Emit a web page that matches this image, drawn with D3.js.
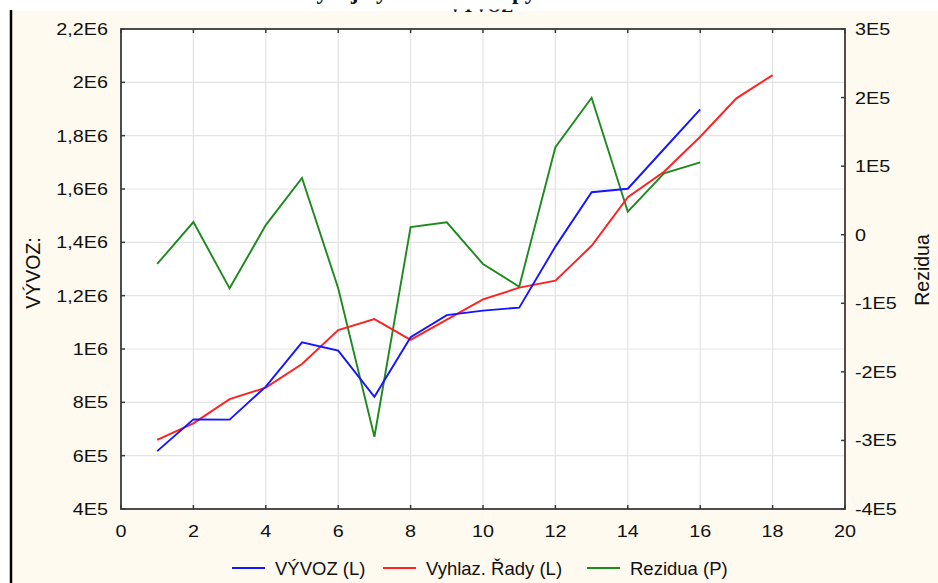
<!DOCTYPE html>
<html><head><meta charset="utf-8">
<script src="https://cdn.jsdelivr.net/npm/d3@7"></script>
<style>body{margin:0;background:#fff}svg{display:block}text{font-family:"Liberation Sans",Arial,sans-serif;fill:#111}</style>
</head><body>
<script>
const xVyvoz = [1,2,3,4,5,6,7,8,9,10,11,12,13,14,15,16];
const vyvoz = [617000,736000,735000,859000,1025000,994000,821000,1044000,1127000,1144000,1155000,1384000,1588000,1601000,1750000,1899000];
const xVyhlaz = [1,2,3,4,5,6,7,8,9,10,11,12,13,14,15,16,17,18];
const vyhlaz = [659000,721000,812000,855000,944000,1071000,1112000,1034000,1110000,1186000,1230000,1256000,1387000,1569000,1665000,1796000,1940000,2027000];
const xRez = [1,2,3,4,5,6,7,8,9,10,11,12,13,14,15,16];
const rezidua = [-42700,18500,-78200,14000,82700,-78000,-294600,11000,18000,-42700,-75800,127500,199800,33500,89500,105600];
const xTicks = [0,2,4,6,8,10,12,14,16,18,20];
const leftTicks = [400000,600000,800000,1000000,1200000,1400000,1600000,1800000,2000000,2200000];
const leftLabels = ["4E5","6E5","8E5","1E6","1,2E6","1,4E6","1,6E6","1,8E6","2E6","2,2E6"];
const rightTicks = [-400000,-300000,-200000,-100000,0,100000,200000,300000];
const rightLabels = ["-4E5","-3E5","-2E5","-1E5","0","1E5","2E5","3E5"];
const legendItems = [["VÝVOZ (L)","#1515ff"],["Vyhlaz. Řady (L)","#ff2020"],["Rezidua (P)","#1e8a1e"]];

const W=938,H=583;
const L=121,R=845,T=29,B=509;
const svg=d3.select("body").append("svg").attr("width",W).attr("height",H);
svg.append("rect").attr("width",W).attr("height",H).attr("fill","#fff");
svg.append("rect").attr("x",12).attr("y",11).attr("width",W-12).attr("height",H-11).attr("fill","#fefaf0");
svg.append("line").attr("x1",11).attr("x2",11).attr("y1",10).attr("y2",H).attr("stroke","#000").attr("stroke-width",2.5);

// cut-off title (only its lowest part is visible in the reference)
const defs=svg.append("defs");
defs.append("clipPath").attr("id","c1").append("rect").attr("x",0).attr("y",0).attr("width",W).attr("height",10);
defs.append("clipPath").attr("id","c2").append("rect").attr("x",0).attr("y",9.5).attr("width",W).attr("height",3.5);
const tStyle=s=>s.style("font-family","Liberation Serif").style("font-weight","bold").style("font-size","23px");
svg.append("text").attr("clip-path","url(#c1)").attr("x",300).attr("y",-1).call(tStyle).text("Vývoj vývozu");
svg.append("text").attr("clip-path","url(#c1)").attr("x",512).attr("y",-1).call(tStyle).text("py");
svg.append("text").attr("clip-path","url(#c2)").attr("x",481).attr("y",12).attr("text-anchor","middle")
  .style("font-family","Liberation Serif").style("font-weight","bold").style("font-size","18px")
  .text("VÝVOZ");

const x=d3.scaleLinear().domain([0,20]).range([L,R]);
const yL=d3.scaleLinear().domain([400000,2200000]).range([B,T]);
const yR=d3.scaleLinear().domain([-400000,300000]).range([B,T]);

svg.append("rect").attr("x",L).attr("y",T).attr("width",R-L).attr("height",B-T).attr("fill","#fff");
const g=svg.append("g");
g.selectAll(".vg").data(xTicks.slice(1,-1)).join("line").attr("x1",d=>x(d)).attr("x2",d=>x(d)).attr("y1",T).attr("y2",B).attr("stroke","#e3e3e3").attr("stroke-width",1.2);
g.selectAll(".hg").data(leftTicks.slice(1,-1)).join("line").attr("y1",d=>yL(d)).attr("y2",d=>yL(d)).attr("x1",L).attr("x2",R).attr("stroke","#e3e3e3").attr("stroke-width",1.2);

function drawLine(xs,ys,scale,color){
  const line=d3.line().x((d,i)=>x(xs[i])).y(d=>scale(d));
  svg.append("path").datum(ys).attr("d",line).attr("fill","none").attr("stroke",color).attr("stroke-width",1.9).attr("stroke-linejoin","miter");
}
drawLine(xRez,rezidua,yR,legendItems[2][1]);
drawLine(xVyhlaz,vyhlaz,yL,legendItems[1][1]);
drawLine(xVyvoz,vyvoz,yL,legendItems[0][1]);

svg.append("rect").attr("x",L).attr("y",T).attr("width",R-L).attr("height",B-T).attr("fill","none").attr("stroke","#3a3a3a").attr("stroke-width",1.8);
const tk=svg.append("g").attr("stroke","#3a3a3a").attr("stroke-width",1.5);
xTicks.forEach(d=>{tk.append("line").attr("x1",x(d)).attr("x2",x(d)).attr("y1",B).attr("y2",B-4);tk.append("line").attr("x1",x(d)).attr("x2",x(d)).attr("y1",T).attr("y2",T+4);});
leftTicks.forEach(d=>tk.append("line").attr("x1",L).attr("x2",L+4).attr("y1",yL(d)).attr("y2",yL(d)));
rightTicks.forEach(d=>tk.append("line").attr("x1",R).attr("x2",R-4).attr("y1",yR(d)).attr("y2",yR(d)));

const fs="16.5px", sx=1.2;
svg.selectAll(".xl").data(xTicks).join("text").attr("transform",d=>`translate(${x(d)},537) scale(${sx},1)`).attr("text-anchor","middle").style("font-size",fs).text(d=>d);
svg.selectAll(".ll").data(leftTicks).join("text").attr("transform",d=>`translate(108,${yL(d)+6}) scale(${sx},1)`).attr("text-anchor","end").style("font-size",fs).text((d,i)=>leftLabels[i]);
svg.selectAll(".rl").data(rightTicks).join("text").attr("transform",d=>`translate(855,${yR(d)+6}) scale(${sx},1)`).attr("text-anchor","start").style("font-size",fs).text((d,i)=>rightLabels[i]);

svg.append("text").attr("transform","translate(40,273) rotate(-90)").attr("text-anchor","middle").style("font-size","19.5px").text("VÝVOZ:");
svg.append("text").attr("transform","translate(929,270) rotate(-90)").attr("text-anchor","middle").style("font-size","19.5px").text("Rezidua");

const lx=[232,383,587];
legendItems.forEach((it,i)=>{
  svg.append("line").attr("x1",lx[i]).attr("x2",lx[i]+33).attr("y1",568).attr("y2",568).attr("stroke",it[1]).attr("stroke-width",1.8);
  svg.append("text").attr("x",lx[i]+43).attr("y",575).style("font-size","18.5px").text(it[0]);
});
</script>
</body></html>
